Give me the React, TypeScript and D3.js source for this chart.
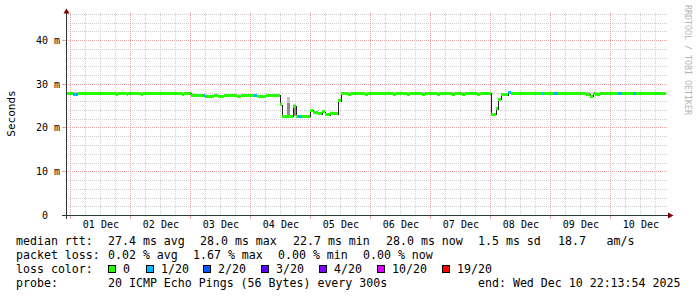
import React from "react";
import * as d3 from "d3";

// ---------------- data ----------------
const START = "2025-11-30 22:13:54";
const END = "2025-12-10 22:13:54";

// median round-trip time (ms), step series: value holds until next time
const medianTimes = [
  "2025-11-30 22:14", "2025-12-01 00:50", "2025-12-01 02:50", "2025-12-01 18:15", "2025-12-01 19:02",
  "2025-12-01 22:26", "2025-12-01 23:02", "2025-12-02 04:14", "2025-12-02 05:02", "2025-12-02 20:26",
  "2025-12-02 21:14", "2025-12-03 00:14", "2025-12-03 05:50", "2025-12-03 09:26", "2025-12-03 11:02",
  "2025-12-03 13:26", "2025-12-03 18:38", "2025-12-03 20:14", "2025-12-04 02:38", "2025-12-04 06:14",
  "2025-12-04 11:38", "2025-12-04 12:26", "2025-12-04 16:50", "2025-12-04 18:14", "2025-12-04 23:50",
  "2025-12-05 01:02", "2025-12-05 03:02", "2025-12-05 04:38", "2025-12-05 05:50", "2025-12-05 07:50",
  "2025-12-05 11:02", "2025-12-05 12:14", "2025-12-05 15:02", "2025-12-05 16:14", "2025-12-05 21:50",
  "2025-12-05 23:02", "2025-12-06 09:02", "2025-12-06 10:14", "2025-12-06 14:26", "2025-12-06 15:38",
  "2025-12-06 20:26", "2025-12-06 21:38", "2025-12-07 02:26", "2025-12-07 03:38", "2025-12-07 08:26",
  "2025-12-07 09:38", "2025-12-07 12:26", "2025-12-07 13:38", "2025-12-07 18:26", "2025-12-07 19:38",
  "2025-12-08 00:02", "2025-12-08 02:07", "2025-12-08 02:55", "2025-12-08 04:14", "2025-12-08 07:02",
  "2025-12-08 08:14", "2025-12-09 14:14", "2025-12-09 15:50", "2025-12-09 17:02", "2025-12-09 17:50",
  "2025-12-09 19:50",
];
const medianMs = [
  27.8, 27.6, 27.8, 27.6, 27.8,
  27.6, 27.8, 27.6, 27.8, 27.6,
  27.8, 27.4, 27.2, 27.4, 27.2,
  27.4, 27.2, 27.4, 27.2, 27.4,
  25.2, 22.6, 24.8, 22.6, 24.0,
  23.5, 23.2, 23.6, 22.9, 23.2,
  26.1, 27.8, 27.6, 27.8, 27.6,
  27.8, 27.6, 27.8, 27.6, 27.8,
  27.6, 27.8, 27.6, 27.8, 27.6,
  27.8, 27.6, 27.8, 27.6, 27.8,
  23.0, 24.3, 26.5, 27.5, 28.0,
  27.8, 27.6, 27.2, 27.8, 27.6,
  27.8,
];

// packet loss intervals (pings lost out of 20)
const lossStart = [
  "2025-12-01 00:50", "2025-12-03 05:02", "2025-12-04 01:14", "2025-12-04 19:02", "2025-12-08 07:02",
  "2025-12-08 20:26", "2025-12-09 01:02", "2025-12-10 03:02", "2025-12-10 09:02",
];
const lossEnd = [
  "2025-12-01 02:50", "2025-12-03 06:14", "2025-12-04 02:26", "2025-12-04 20:26", "2025-12-08 08:14",
  "2025-12-08 21:02", "2025-12-09 03:02", "2025-12-10 04:26", "2025-12-10 10:14",
];
const lossPings = [1, 1, 1, 1, 1, 1, 1, 1, 1];

// smoke: spread of all pings (outer) and of the middle pings (core)
const smokeStart = [
  "2025-12-01 00:50", "2025-12-01 18:15", "2025-12-01 22:26", "2025-12-02 04:14", "2025-12-02 20:26",
  "2025-12-03 00:14", "2025-12-04 14:26", "2025-12-04 16:50", "2025-12-05 15:02", "2025-12-05 21:50",
  "2025-12-06 09:02", "2025-12-06 14:26", "2025-12-06 20:26", "2025-12-07 02:26", "2025-12-07 08:26",
  "2025-12-07 12:26", "2025-12-07 18:26", "2025-12-09 14:14", "2025-12-09 17:50",
];
const smokeEnd = [
  "2025-12-01 02:50", "2025-12-01 19:02", "2025-12-01 23:02", "2025-12-02 05:02", "2025-12-02 21:14",
  "2025-12-03 01:26", "2025-12-04 15:50", "2025-12-04 18:14", "2025-12-05 16:14", "2025-12-05 23:02",
  "2025-12-06 10:14", "2025-12-06 15:38", "2025-12-06 21:38", "2025-12-07 03:38", "2025-12-07 09:38",
  "2025-12-07 13:38", "2025-12-07 19:38", "2025-12-09 15:50", "2025-12-09 19:50",
];
const smokeLow = [
  27.6, 27.6, 27.6, 27.6, 27.6,
  27.4, 22.6, 22.6, 27.6, 27.6,
  27.6, 27.6, 27.6, 27.6, 27.6,
  27.6, 27.6, 27.6, 27.6,
];
const smokeHigh = [
  28.1, 28.1, 28.1, 28.1, 28.1,
  27.9, 27.0, 25.3, 28.1, 28.1,
  28.1, 28.1, 28.1, 28.1, 28.1,
  28.1, 28.1, 28.1, 28.1,
];
const coreStart = ["2025-12-04 14:26", "2025-12-04 17:14"];
const coreEnd = ["2025-12-04 15:50", "2025-12-04 18:02"];
const coreLow = [22.6, 22.6];
const coreHigh = [25.6, 24.6];

const yTicks = [0, 10, 20, 30, 40];
const lossLevels = [0, 1, 2, 3, 4, 10, 19];
const lossLabels = ["0", "1/20", "2/20", "3/20", "4/20", "10/20", "19/20"];
const lossColors = ["#26ff00", "#00b8ff", "#0059ff", "#5e00ff", "#7e00ff", "#dd00ff", "#ff0000"];

const rttStats = ["27.4 ms avg", "28.0 ms max", "22.7 ms min", "28.0 ms now", "1.5 ms sd", "18.7"];
const lossStats = ["0.02 % avg", "1.67 % max", "0.00 % min", "0.00 % now"];
const probeText = "20 ICMP Echo Pings (56 Bytes) every 300s";
const endText = "end: Wed Dec 10 22:13:54 2025";

// ---------------- drawing ----------------
const W = 697;
const H = 297;
const MONO = "'DejaVu Sans Mono', monospace";

const parseM = d3.timeParse("%Y-%m-%d %H:%M");
const parseS = d3.timeParse("%Y-%m-%d %H:%M:%S");

export default function App() {
  const t0 = parseS(START) as Date;
  const t1 = parseS(END) as Date;
  const xs = d3.scaleTime().domain([t0, t1]).range([66, 666]);
  const ys = d3.scaleLinear().domain([0, 46.4]).range([215, 12]);
  const snap = (v: number) => Math.round(v) + 0.5;

  const mT = medianTimes.map((s) => parseM(s) as Date);
  mT[0] = t0;
  const lS = lossStart.map((s) => parseM(s) as Date);
  const lE = lossEnd.map((s) => parseM(s) as Date);

  const medianAt = (t: Date) => {
    let v = medianMs[0];
    for (let i = 0; i < mT.length; i++) if (+mT[i] <= +t) v = medianMs[i];
    return v;
  };
  const lossAt = (t: Date) => {
    for (let i = 0; i < lS.length; i++) if (+lS[i] <= +t && +t < +lE[i]) return lossPings[i];
    return 0;
  };
  const colorFor = (loss: number) => {
    for (let i = 0; i < lossLevels.length; i++) if (loss <= lossLevels[i]) return lossColors[i];
    return lossColors[lossColors.length - 1];
  };

  // band segments
  const bps = Array.from(new Set([...mT, ...lS, ...lE, t1].map((d) => +d)))
    .sort((a, b) => a - b)
    .map((n) => new Date(n));
  const segs: { x: number; w: number; y: number; c: string }[] = [];
  for (let i = 0; i < bps.length - 1; i++) {
    const a = bps[i];
    const b = bps[i + 1];
    const x = Math.round(xs(a));
    const w = Math.round(xs(b)) - x;
    if (w <= 0) continue;
    const m = medianAt(a);
    segs.push({ x, w, y: Math.round(ys(m) - 1.5), c: colorFor(lossAt(a)) });
  }

  // median line (staircase)
  let path = `M${snap(xs(mT[0]))},${snap(ys(medianMs[0]))}`;
  for (let i = 1; i < mT.length; i++) {
    path += `H${snap(xs(mT[i]))}V${snap(ys(medianMs[i]))}`;
  }
  path += `H${xs(t1)}`;

  const smokeRects = smokeStart.map((s, i) => {
    const x = Math.round(xs(parseM(s) as Date));
    const x2 = Math.round(xs(parseM(smokeEnd[i]) as Date));
    const y = Math.round(ys(smokeHigh[i]));
    const y2 = Math.round(ys(smokeLow[i]));
    return { x, w: x2 - x, y, h: y2 - y };
  });
  const coreRects = coreStart.map((s, i) => {
    const x = Math.round(xs(parseM(s) as Date));
    const x2 = Math.round(xs(parseM(coreEnd[i]) as Date));
    const y = Math.round(ys(coreHigh[i]));
    const y2 = Math.round(ys(coreLow[i]));
    return { x, w: x2 - x, y, h: y2 - y };
  });

  // grid
  const minorV = d3.timeHour.every(6)!.range(t0, t1).filter((d) => d.getHours() !== 0);
  const majorV = d3.timeDay.range(t0, t1);
  const dayLabels = d3.timeDay
    .range(t0, t1)
    .map((d) => d3.timeHour.offset(d, 12))
    .filter((d) => +d > +t0 && +d < +t1);
  const fmt = d3.timeFormat("%d %b");
  const minorH = d3.range(2, 47, 2).filter((v) => v % 10 !== 0 && ys(v) >= 12);
  const majorH = yTicks.filter((v) => v > 0);

  const gridMinor = "#cfcfcf";
  const gridMajor = "#e9a3a3";
  const axisCol = "#2a3a36";
  const arrowCol = "#7f0000";
  const top = 13;
  const right = 668;

  const rttX = [108, 200, 293, 386, 478, 558];
  const lossX = [108, 193, 278, 363];
  const boxX = [108, 146, 203, 261, 319, 377, 442];

  return (
    <svg
      width={W}
      height={H}
      style={{ position: "absolute", left: 0, top: 0, background: "#fff" }}
      fontFamily={MONO}
    >
      <rect x={0} y={0} width={W} height={H} fill="#fff" />

      {/* grid */}
      <g shapeRendering="crispEdges">
        {minorV.map((d, i) => (
          <line key={"mv" + i} x1={snap(xs(d))} x2={snap(xs(d))} y1={top} y2={215}
            stroke={gridMinor} strokeDasharray="1,1" />
        ))}
        {minorH.map((v, i) => (
          <line key={"mh" + i} x1={66} x2={right} y1={snap(ys(v))} y2={snap(ys(v))}
            stroke={gridMinor} strokeDasharray="1,1" />
        ))}
        {majorV.map((d, i) => (
          <g key={"Mv" + i}>
            <line x1={snap(xs(d))} x2={snap(xs(d))} y1={top} y2={215}
              stroke={gridMajor} strokeDasharray="1,1" />
            <line x1={snap(xs(d))} x2={snap(xs(d))} y1={215} y2={219} stroke={gridMajor} />
          </g>
        ))}
        {majorH.map((v, i) => (
          <g key={"Mh" + i}>
            <line x1={66} x2={right} y1={snap(ys(v))} y2={snap(ys(v))}
              stroke={gridMajor} strokeDasharray="1,1" />
            <line x1={62} x2={66} y1={snap(ys(v))} y2={snap(ys(v))} stroke={gridMajor} />
          </g>
        ))}
      </g>

      {/* smoke */}
      <g shapeRendering="crispEdges">
        {smokeRects.map((r, i) => (
          <rect key={"s" + i} x={r.x} y={r.y} width={r.w} height={r.h} fill="#c6c6c6" />
        ))}
        {coreRects.map((r, i) => (
          <rect key={"c" + i} x={r.x} y={r.y} width={r.w} height={r.h} fill="#8c8c8c" />
        ))}
      </g>

      {/* median line */}
      <path d={path} fill="none" stroke="#202020" strokeWidth={1} shapeRendering="crispEdges" />

      {/* loss-coloured median band */}
      <g shapeRendering="crispEdges">
        {segs.map((s, i) => (
          <rect key={"b" + i} x={s.x} y={s.y} width={s.w} height={3} fill={s.c} />
        ))}
      </g>

      {/* axes */}
      <g shapeRendering="crispEdges">
        <line x1={62} x2={668} y1={215.5} y2={215.5} stroke={axisCol} />
        <line x1={66.5} x2={66.5} y1={219} y2={13} stroke={axisCol} />
      </g>
      <path d="M63.5,13.5 L69.5,13.5 L66.5,8.5 Z" fill={arrowCol} />
      <path d="M668,212.5 L668,218.5 L673.5,215.5 Z" fill={arrowCol} />

      {/* y labels */}
      {yTicks.map((v, i) => (
        <g key={"yl" + i} fontSize={10} fill="#000">
          <text x={48} y={snap(ys(v)) + 3} textAnchor="end">{v}</text>
          {v > 0 && <text x={54} y={snap(ys(v)) + 3}>m</text>}
        </g>
      ))}
      {/* x labels */}
      {dayLabels.map((d, i) => (
        <text key={"xl" + i} x={xs(d) + 0.5} y={228} fontSize={10} textAnchor="middle" fill="#000">
          {fmt(d)}
        </text>
      ))}

      {/* axis title */}
      <text transform="translate(15,113.5) rotate(-90)" fontSize={11} textAnchor="middle" fill="#000">
        Seconds
      </text>
      {/* watermark */}
      <text transform="translate(684.5,5) rotate(90)" fontSize={8.3} fill="#b4b4b4">
        RRDTOOL / TOBI OETIKER
      </text>

      {/* legend */}
      <g fontSize={11.6} fill="#000">
        <text x={16} y={245.3}>median rtt:</text>
        {rttStats.map((s, i) => (
          <text key={"r" + i} x={rttX[i]} y={245.3}>{s}</text>
        ))}
        <text x={606.5} y={245.3}>am/s</text>

        <text x={16} y={259.1}>packet loss:</text>
        {lossStats.map((s, i) => (
          <text key={"p" + i} x={lossX[i]} y={259.1}>{s}</text>
        ))}

        <text x={16} y={272.9}>loss color:</text>
        {lossLabels.map((s, i) => (
          <g key={"lc" + i}>
            <rect x={boxX[i] + 0.5} y={265.5} width={7} height={7} fill={lossColors[i]}
              stroke="#000" strokeWidth={1} shapeRendering="crispEdges" />
            <text x={boxX[i] + 15} y={272.9}>{s}</text>
          </g>
        ))}

        <text x={16} y={286.7}>probe:</text>
        <text x={108} y={286.7}>{probeText}</text>
        <text x={478} y={286.7}>{endText}</text>
      </g>
    </svg>
  );
}
